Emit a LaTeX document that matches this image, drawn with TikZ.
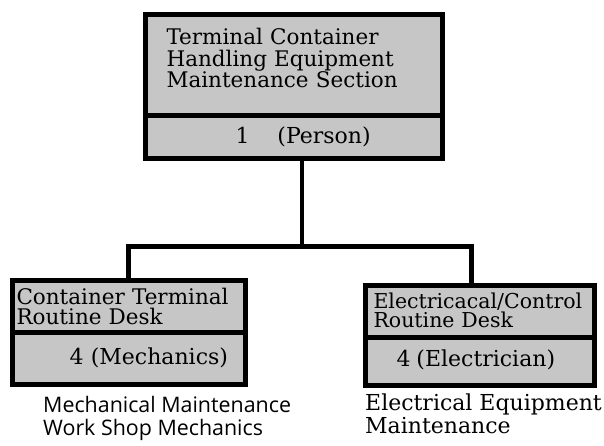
\documentclass[tikz,border=0pt]{standalone}
\usepackage{fontspec}
\setmainfont{DejaVu Serif}
\setsansfont{Open Sans}
\usetikzlibrary{positioning}
\newcommand{\padbelow}[1]{\rule[-#1]{0pt}{#1}}
\newcommand{\paren}[2]{{\fontsize{#1}{#1}\selectfont\addfontfeatures{LetterSpace=#2}}}

\begin{document}
\begin{tikzpicture}[
    x=1pt, y=-1pt,
    unit/.style={draw, line width=5pt, fill=gray!45, inner xsep=4pt, inner ysep=2pt, align=left},
    count/.style={unit, font=\fontsize{22}{22}\selectfont},
    note/.style={align=left, inner sep=0pt},
    link/.style={line width=4.5pt}
  ]
    \useasboundingbox (0,0) rectangle (604,446);

    %% ---- Top: section ----
    \node[unit, minimum width=297, minimum height=101, text width=289,
          font=\fontsize{21.5}{21.5}\selectfont] (sec) at (294,65)
      {\hspace*{17pt}Terminal Container\\\hspace*{17pt}Handling Equipment\\\hspace*{17pt}Maintenance Section\padbelow{14pt}};
    \node[count, minimum width=297, minimum height=43, text width=289] (secn) at (294,137)
      {\hspace*{86pt}1\hspace{28pt}{\paren{18}{0}(Person)}};

    %% ---- Left: mechanical desk ----
    \node[unit, minimum width=233, minimum height=51.5, text width=225,
          font=\fontsize{21.5}{19.5}\selectfont] (mech) at (129,306.25)
      {Container Terminal\\Routine Desk};
    \node[count, minimum width=233, minimum height=52.5, text width=225] (mechn) at (129,358.25)
      {\hspace*{53pt}4 {\paren{18}{12}(Mechanics)}};
    \node[note, anchor=north west, font=\sffamily\fontsize{21.4}{23}\selectfont] (mechtxt) at (43,396)
      {Mechanical Maintenance\\Work Shop Mechanics};

    %% ---- Right: electrical desk ----
    \node[unit, inner xsep=8pt, minimum width=229, minimum height=51.5, text width=213,
          font=\fontsize{20.5}{18.5}\selectfont] (elec) at (480,311.25)
      {Electricacal/Control\\Routine Desk\padbelow{2pt}};
    \node[count, minimum width=229, minimum height=48.5, text width=221] (elecn) at (480,361.25)
      {\hspace*{27pt}4\hspace{6pt}{\paren{20.5}{20}(Electrician)}\padbelow{6pt}};
    \node[note, anchor=north west, font=\fontsize{22}{23}\selectfont] (electxt) at (365,394)
      {Electrical Equipment\\Maintenance};

    %% ---- Connectors ----
    \coordinate (j)  at (302,246.5);
    \coordinate (jl) at (128.5,246.5);
    \coordinate (jr) at (471.5,246.5);
    \draw[link] (secn.south -| j) -- (j);
    \draw[link] (mech.north -| jl) -- (jl) -- (jr) -- (elec.north -| jr);
\end{tikzpicture}
\end{document}
